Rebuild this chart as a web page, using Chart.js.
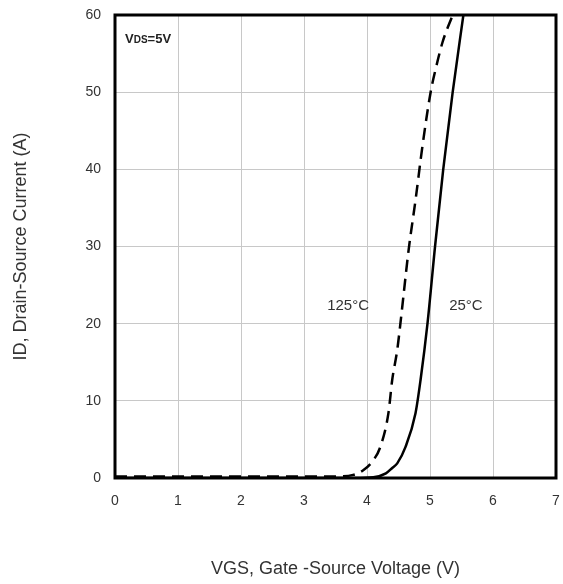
<!DOCTYPE html>
<html>
<head>
<meta charset="utf-8">
<script src="https://cdn.jsdelivr.net/npm/chart.js@4.4.1/dist/chart.umd.min.js"></script>
<style>
  html, body { margin: 0; padding: 0; background: #fff; }
  #wrap { width: 563px; height: 584px; }
</style>
</head>
<body>
<div id="wrap"><canvas id="transferChart" width="563" height="584"></canvas></div>
<script>
// Transfer characteristics: ID vs VGS at VDS = 5V
const vgs25 = [0, 3.8, 4.1, 4.3, 4.4, 4.48, 4.61, 4.77, 4.85, 4.96, 5.08, 5.21, 5.36, 5.53];
const id25 = [0, 0, 0.1, 0.6, 1.3, 1.9, 4.0, 8.4, 12.7, 20, 30, 40, 50, 60];

const vgs125 = [0, 3.5, 3.78, 3.94, 4.1, 4.21, 4.34, 4.4, 4.48, 4.53, 4.66, 4.77, 4.88, 5.01, 5.09, 5.2, 5.36];
const id125 = [0.2, 0.2, 0.4, 1.0, 2.3, 4.0, 8.4, 12.7, 16.6, 20, 29.5, 36, 43, 50, 53, 56.5, 60];

const xTicks = [0, 1, 2, 3, 4, 5, 6, 7];
const yTicks = [0, 10, 20, 30, 40, 50, 60];

const FONT = "'Liberation Sans', Arial, sans-serif";

function toPoints(xs, ys) {
  return xs.map((x, i) => ({ x: x, y: ys[i] }));
}

// Frame around the plot area plus the in-plot annotations
const annotations = {
  id: 'annotations',
  afterDatasetsDraw(chart) {
    const { ctx, chartArea, scales } = chart;
    ctx.save();
    ctx.strokeStyle = '#000';
    ctx.lineWidth = 3;
    ctx.strokeRect(chartArea.left, chartArea.top, chartArea.right - chartArea.left, chartArea.bottom - chartArea.top);

    // VDS=5V
    ctx.fillStyle = '#222';
    ctx.textBaseline = 'alphabetic';
    let x = chartArea.left + 10;
    const y = chartArea.top + 28;
    ctx.font = 'bold 13px ' + FONT;
    ctx.fillText('V', x, y);
    x += ctx.measureText('V').width;
    ctx.font = 'bold 10px ' + FONT;
    ctx.fillText('DS', x, y);
    x += ctx.measureText('DS').width;
    ctx.font = 'bold 13px ' + FONT;
    ctx.fillText('=5V', x, y);

    // curve labels
    ctx.font = '15px ' + FONT;
    ctx.fillStyle = '#333';
    ctx.textAlign = 'center';
    ctx.textBaseline = 'middle';
    ctx.fillText('125°C', scales.x.getPixelForValue(3.7), scales.y.getPixelForValue(22.3));
    ctx.fillText('25°C', scales.x.getPixelForValue(5.57), scales.y.getPixelForValue(22.3));
    ctx.restore();
  }
};

new Chart(document.getElementById('transferChart'), {
  type: 'line',
  data: {
    datasets: [
      {
        label: '25°C',
        data: toPoints(vgs25, id25),
        borderColor: '#000',
        borderWidth: 2.5,
        pointRadius: 0,
        cubicInterpolationMode: 'monotone',
        fill: false
      },
      {
        label: '125°C',
        data: toPoints(vgs125, id125),
        borderColor: '#000',
        borderWidth: 2.5,
        borderDash: [12, 7],
        pointRadius: 0,
        cubicInterpolationMode: 'monotone',
        fill: false
      }
    ]
  },
  options: {
    responsive: false,
    animation: false,
    clip: 0,
    layout: { padding: { top: 15, right: 7, left: 0, bottom: 0 } },
    plugins: {
      legend: { display: false },
      tooltip: { enabled: false }
    },
    scales: {
      x: {
        type: 'linear',
        min: 0,
        max: 7,
        afterBuildTicks: (s) => { s.ticks = xTicks.map(v => ({ value: v })); },
        afterFit: (s) => { s.height = 106; s.paddingLeft = 0; s.paddingRight = 0; },
        grid: { color: '#c8c8c8', lineWidth: 1, drawTicks: false },
        border: { display: false },
        ticks: { color: '#333', font: { family: FONT, size: 14 }, padding: 15 },
        title: {
          display: true,
          text: 'VGS, Gate -Source Voltage (V)',
          color: '#333',
          font: { family: FONT, size: 18 },
          padding: { top: 30 }
        }
      },
      y: {
        type: 'linear',
        min: 0,
        max: 60,
        afterBuildTicks: (s) => { s.ticks = yTicks.map(v => ({ value: v })); },
        afterFit: (s) => { s.width = 115; s.paddingTop = 0; s.paddingBottom = 0; },
        grid: { color: '#c8c8c8', lineWidth: 1, drawTicks: false },
        border: { display: false },
        ticks: { color: '#333', font: { family: FONT, size: 14 }, padding: 14 },
        title: {
          display: true,
          text: 'ID, Drain-Source Current (A)',
          color: '#333',
          font: { family: FONT, size: 18 },
          padding: { top: 10, bottom: 0 }
        }
      }
    }
  },
  plugins: [annotations]
});
</script>
</body>
</html>
